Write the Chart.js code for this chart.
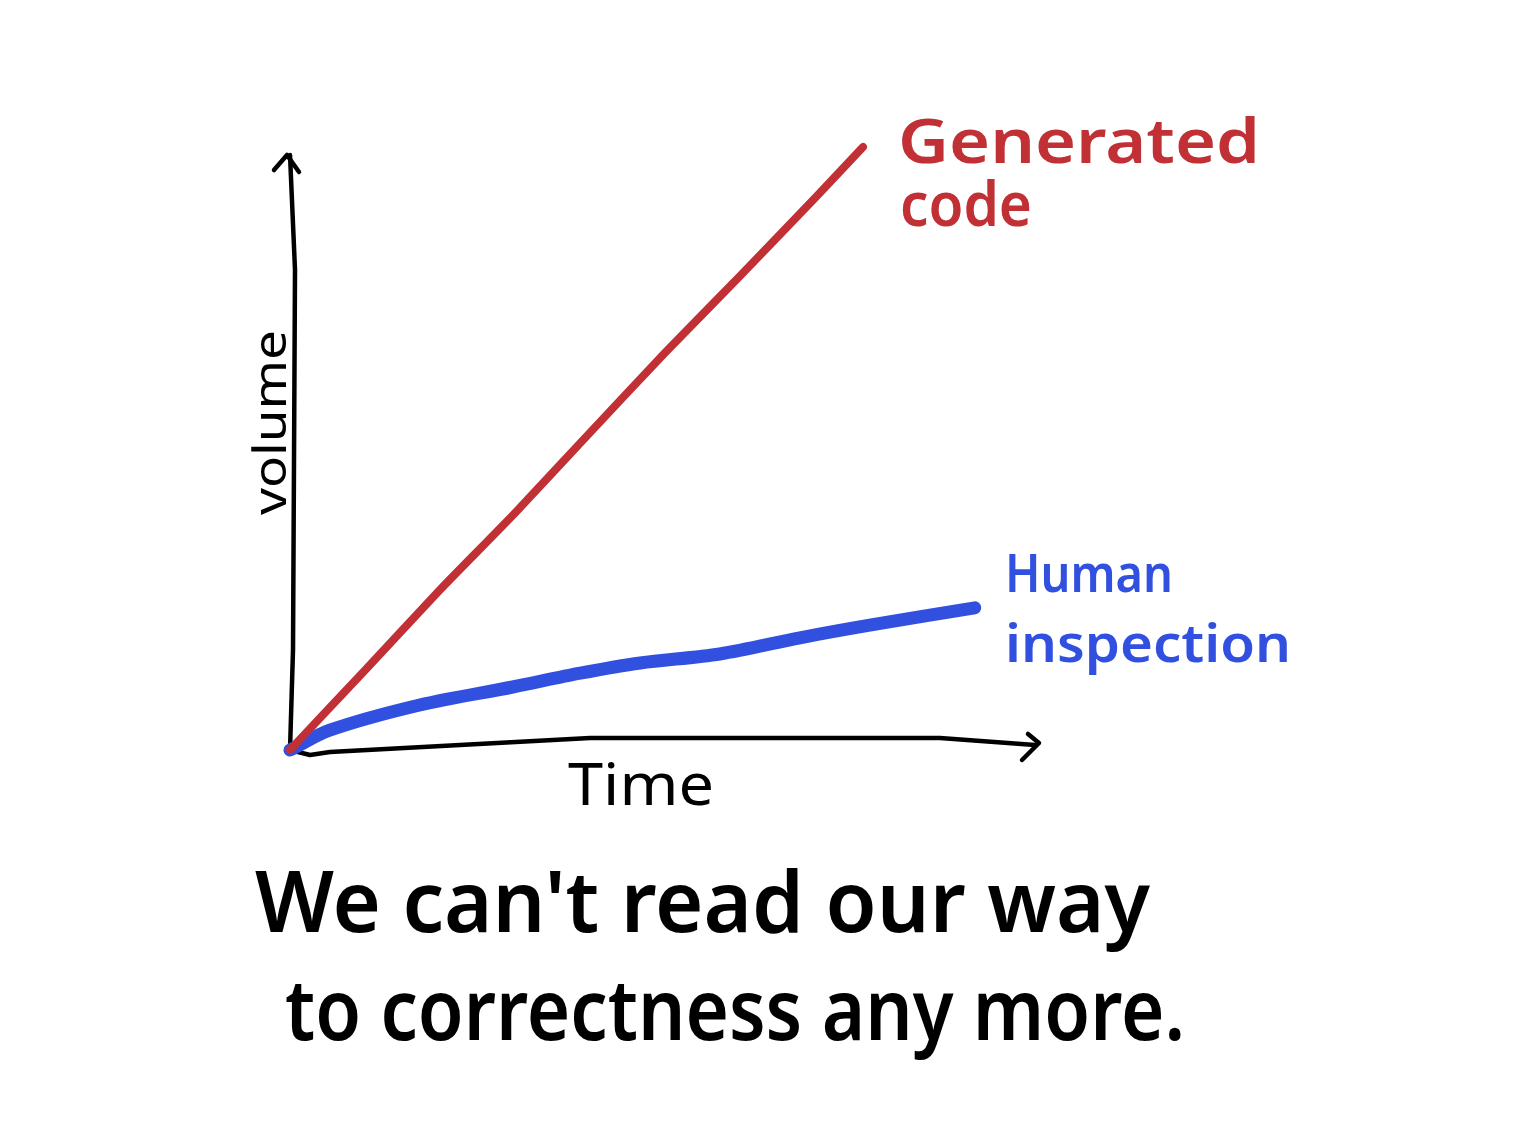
<!DOCTYPE html>
<html>
<head>
<meta charset="utf-8">
<script src="https://cdn.jsdelivr.net/npm/chart.js@4"></script>
<style>
  html, body { margin: 0; padding: 0; background: #fff; }
  #wrap { width: 1527px; height: 1147px; }
</style>
</head>
<body>
<div id="wrap"><canvas id="myChart" width="1527" height="1147"></canvas></div>
<script>
// volume vs time (hand drawn sketch)
const generatedX = [0, 1, 2, 3, 4, 5, 6, 7, 7.64];
const generatedY = [0, 1.33, 2.67, 3.95, 5.29, 6.62, 7.9, 9.2, 10.05];
const humanX = [0, 0.53, 1.73, 2.97, 3.87, 4.67, 5.73, 6.8, 7.73, 9.13];
const humanY = [0, 0.33, 0.75, 1.05, 1.28, 1.45, 1.6, 1.87, 2.08, 2.37];

const seriesNames = ['Generated code', 'Human inspection'];
const xTitle = 'Time';
const yTitle = 'volume';
const caption = ["We can't read our way", 'to correctness any more.'];

const RED = '#c03034';
const BLUE = '#3150e0';
const FONT = '"Noto Sans", sans-serif';

function pts(xs, ys) {
	return xs.map((x, i) => ({ x: x, y: ys[i] }));
}

// text squeezed/stretched to a given width
function fitText(ctx, str, x, y, w, size, color, weight) {
	ctx.font = (weight || 'normal') + ' ' + size + 'px ' + FONT;
	const m = ctx.measureText(str).width;
	ctx.save();
	ctx.translate(x, y);
	ctx.scale(w / m, 1);
	ctx.fillStyle = color;
	ctx.textBaseline = 'alphabetic';
	ctx.textAlign = 'left';
	ctx.fillText(str, 0, 0);
	ctx.restore();
}

const sketch = {
	id: 'sketch',
	beforeDatasetsDraw(chart) {
		const ctx = chart.ctx;
		const xs = chart.scales.x, ys = chart.scales.y;
		const x0 = xs.getPixelForValue(0), y0 = ys.getPixelForValue(0);
		const xEnd = xs.getPixelForValue(10), yEnd = ys.getPixelForValue(10);
		ctx.save();
		ctx.strokeStyle = '#000';
		ctx.lineWidth = 4.5;
		ctx.lineCap = 'round';
		ctx.lineJoin = 'round';
		// y axis
		ctx.beginPath();
		ctx.moveTo(x0, y0);
		ctx.lineTo(x0 + 3, y0 - 100);
		ctx.lineTo(x0 + 5, yEnd + 120);
		ctx.lineTo(x0, yEnd + 5);
		ctx.stroke();
		ctx.beginPath();
		ctx.moveTo(x0 - 16, yEnd + 20);
		ctx.lineTo(x0 - 3, yEnd + 5);
		ctx.lineTo(x0 + 9, yEnd + 22);
		ctx.stroke();
		// x axis
		ctx.beginPath();
		ctx.moveTo(x0, y0);
		ctx.lineTo(x0 + 20, y0 + 5);
		ctx.lineTo(x0 + 40, y0 + 2);
		ctx.lineTo(x0 + 300, y0 - 12);
		ctx.lineTo(xEnd - 100, y0 - 12);
		ctx.lineTo(xEnd - 5, y0 - 5);
		ctx.stroke();
		ctx.beginPath();
		ctx.moveTo(xEnd - 12, y0 - 16);
		ctx.lineTo(xEnd - 1, y0 - 7);
		ctx.lineTo(xEnd - 18, y0 + 10);
		ctx.stroke();
		ctx.restore();
	},
	afterDraw(chart) {
		const ctx = chart.ctx;
		// axis titles
		fitText(ctx, xTitle, 568, 805, 146, 58, '#000');
		ctx.save();
		ctx.translate(286, 515);
		ctx.rotate(-Math.PI / 2);
		fitText(ctx, yTitle, 0, 0, 185, 46, '#000');
		ctx.restore();
		// series labels
		fitText(ctx, 'Generated', 898, 163, 362, 62, RED, '600');
		fitText(ctx, 'code', 900, 226, 132, 62, RED, '600');
		fitText(ctx, 'Human', 1005, 592, 168, 52, BLUE, '600');
		fitText(ctx, 'inspection', 1005, 662, 286, 52, BLUE, '600');
		// caption
		fitText(ctx, caption[0], 255, 932, 895, 84, '#000', '600');
		fitText(ctx, caption[1], 285, 1040, 900, 84, '#000', '600');
	}
};

const ctx = document.getElementById('myChart').getContext('2d');
const myChart = new Chart(ctx, {
	type: 'line',
	data: {
		datasets: [{
			label: seriesNames[0],
			data: pts(generatedX, generatedY),
			borderColor: RED,
			borderWidth: 8,
			borderCapStyle: 'round',
			borderJoinStyle: 'round',
			pointRadius: 0,
			tension: 0.2,
			fill: false
		}, {
			label: seriesNames[1],
			data: pts(humanX, humanY),
			borderColor: BLUE,
			borderWidth: 13,
			borderCapStyle: 'round',
			borderJoinStyle: 'round',
			pointRadius: 0,
			tension: 0.3,
			fill: false
		}]
	},
	options: {
		responsive: false,
		animation: false,
		clip: false,
		layout: { padding: { left: 290, right: 487, top: 150, bottom: 397 } },
		plugins: { legend: { display: false }, tooltip: { enabled: false } },
		scales: {
			x: { type: 'linear', min: 0, max: 10, display: false },
			y: { type: 'linear', min: 0, max: 10, display: false }
		}
	},
	plugins: [sketch]
});
</script>
</body>
</html>
